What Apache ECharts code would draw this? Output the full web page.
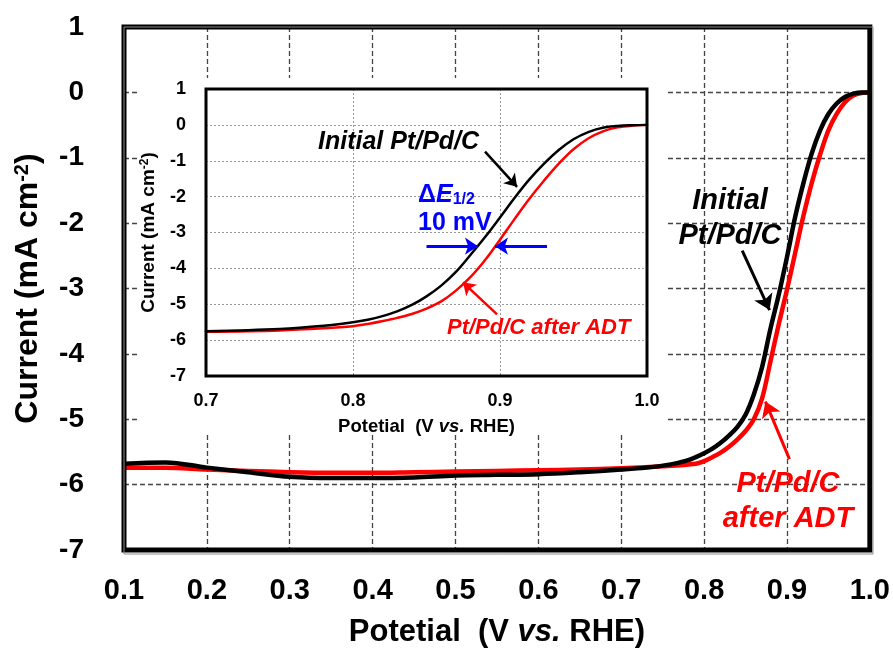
<!DOCTYPE html>
<html>
<head>
<meta charset="utf-8">
<script src="https://cdn.jsdelivr.net/npm/echarts@6/dist/echarts.min.js"></script>
<style>
  html, body { margin: 0; padding: 0; background: #fff; }
  #chart { width: 893px; height: 653px; }
</style>
</head>
<body>
<div id="chart"></div>
<script>
// ORR polarization curves of Pt/Pd/C before and after the accelerated durability test.

// Full scan, initial catalyst (potential V, current mA cm-2)
const initialV = [0.10, 0.15, 0.20, 0.25, 0.30, 0.35, 0.40, 0.45, 0.50, 0.55, 0.60, 0.65, 0.70, 0.73, 0.76, 0.78, 0.79, 0.80, 0.81, 0.82, 0.83, 0.84, 0.85, 0.86, 0.87, 0.88, 0.89, 0.90, 0.91, 0.92, 0.93, 0.94, 0.95, 0.96, 0.97, 0.98, 0.99, 1.00];
const initialI = [-5.68, -5.66, -5.74, -5.81, -5.88, -5.90, -5.90, -5.89, -5.86, -5.85, -5.84, -5.81, -5.77, -5.74, -5.69, -5.63, -5.58, -5.52, -5.45, -5.36, -5.25, -5.12, -4.93, -4.62, -4.20, -3.62, -3.10, -2.52, -1.90, -1.38, -0.93, -0.58, -0.33, -0.17, -0.07, -0.02, 0.00, 0.00];

// Full scan, after ADT
const adtV = [0.10, 0.15, 0.20, 0.25, 0.30, 0.35, 0.40, 0.45, 0.50, 0.55, 0.60, 0.65, 0.70, 0.75, 0.79, 0.80, 0.81, 0.82, 0.83, 0.84, 0.85, 0.86, 0.87, 0.88, 0.89, 0.90, 0.91, 0.92, 0.93, 0.94, 0.95, 0.96, 0.97, 0.98, 0.99, 1.00];
const adtI = [-5.74, -5.74, -5.77, -5.79, -5.81, -5.82, -5.82, -5.81, -5.80, -5.79, -5.78, -5.77, -5.75, -5.72, -5.68, -5.64, -5.58, -5.51, -5.42, -5.31, -5.18, -5.00, -4.68, -4.12, -3.55, -3.02, -2.45, -1.88, -1.38, -0.95, -0.58, -0.33, -0.15, -0.05, -0.01, 0.00];

// Inset (0.7 - 1.0 V), initial catalyst
const insetInitialV = [0.70, 0.75, 0.78, 0.80, 0.81, 0.82, 0.83, 0.84, 0.85, 0.86, 0.87, 0.88, 0.89, 0.90, 0.91, 0.92, 0.93, 0.94, 0.95, 0.96, 0.97, 0.98, 0.99, 1.00];
const insetInitialI = [-5.75, -5.69, -5.60, -5.50, -5.43, -5.33, -5.20, -5.02, -4.78, -4.48, -4.10, -3.62, -3.12, -2.58, -2.03, -1.52, -1.08, -0.70, -0.40, -0.20, -0.08, -0.03, -0.01, 0.00];

// Inset (0.7 - 1.0 V), after ADT
const insetAdtV = [0.70, 0.75, 0.78, 0.80, 0.81, 0.82, 0.83, 0.84, 0.85, 0.86, 0.87, 0.88, 0.89, 0.90, 0.91, 0.92, 0.93, 0.94, 0.95, 0.96, 0.97, 0.98, 0.99, 1.00];
const insetAdtI = [-5.77, -5.73, -5.67, -5.61, -5.55, -5.47, -5.38, -5.27, -5.12, -4.92, -4.62, -4.24, -3.76, -3.20, -2.62, -2.06, -1.55, -1.08, -0.68, -0.38, -0.18, -0.07, -0.02, 0.00];

// Axis ranges
const mainX = { min: 0.1, max: 1.0, step: 0.1 };
const mainY = { min: -7, max: 1, step: 1 };
const insetX = { min: 0.7, max: 1.0, step: 0.1 };
const insetY = { min: -7, max: 1, step: 1 };

// Annotation arrows, [start, end] in data units
const mainArrowInitial = [[0.846, -2.42], [0.879, -3.33]];
const mainArrowAdt = [[0.903, -5.61], [0.874, -4.73]];
const insetArrowInitial = [[0.8898, -0.744], [0.9116, -1.728]];
const insetArrowAdt = [[0.898, -5.28], [0.8748, -4.39]];
const halfWaveArrows = [
  [[0.850, -3.38], [0.885, -3.38]],
  [[0.932, -3.38], [0.8966, -3.38]]
];

const FONT = '"Liberation Sans", Arial, Helvetica, sans-serif';
const RED = '#ff0000';
const BLUE = '#0000ff';

const MAIN = { left: 124, top: 27, width: 749, height: 527 };
const INSET = { left: 206, top: 89, width: 441, height: 287 };

const pairs = (xs, ys) => xs.map((x, i) => [x, ys[i]]);

const chart = echarts.init(document.getElementById('chart'), null, { renderer: 'canvas' });

const bold = (size, extra) => Object.assign({ fontFamily: FONT, fontWeight: 'bold', fontSize: size, color: '#000' }, extra || {});

function valueAxis(range, gridIndex, opts) {
  return Object.assign({
    type: 'value',
    gridIndex: gridIndex,
    min: range.min,
    max: range.max,
    interval: range.step,
    axisLine: { show: false },
    axisTick: { show: false }
  }, opts);
}

function curve(name, xs, ys, color, width, axisIndex, z) {
  return {
    name: name, type: 'line', xAxisIndex: axisIndex, yAxisIndex: axisIndex, z: z,
    data: pairs(xs, ys), showSymbol: false, smooth: 0.35,
    lineStyle: { color: color, width: width, cap: 'round', join: 'round' }
  };
}

function arrow(coordsList, color, width, size, axisIndex) {
  return {
    type: 'lines', coordinateSystem: 'cartesian2d', xAxisIndex: axisIndex, yAxisIndex: axisIndex, z: 12,
    symbol: ['none', 'arrow'], symbolSize: [0, size],
    lineStyle: { color: color, width: width, opacity: 1 },
    data: coordsList.map(c => ({ coords: c }))
  };
}

const option = {
  animation: false,
  backgroundColor: '#fff',
  grid: [
    Object.assign({ show: true, borderColor: '#000', borderWidth: 5, backgroundColor: 'transparent', z: 10 }, MAIN),
    Object.assign({ show: true, borderColor: '#000', borderWidth: 3, backgroundColor: 'transparent', z: 8 }, INSET)
  ],
  xAxis: [
    valueAxis(mainX, 0, {
      z: 1,
      axisLabel: Object.assign(bold(29), { margin: 26, formatter: v => v.toFixed(1) }),
      splitLine: { show: true, lineStyle: { color: '#444', width: 1.3, type: [5, 3] } },
      name: '{a|Potetial  (V }{i|vs.}{a| RHE)}',
      nameLocation: 'middle',
      nameGap: 67,
      nameTextStyle: { rich: { a: bold(31), i: bold(31, { fontStyle: 'italic' }) } }
    }),
    valueAxis(insetX, 1, {
      z: 6,
      axisLabel: Object.assign(bold(18), { margin: 16, formatter: v => v.toFixed(1) }),
      splitLine: { show: true, lineStyle: { color: '#999', width: 1, type: [2, 2] } },
      name: '{a|Potetial  (V }{i|vs.}{a| RHE)}',
      nameLocation: 'middle',
      nameGap: 41,
      nameTextStyle: { rich: { a: bold(18.5), i: bold(18.5, { fontStyle: 'italic' }) } }
    })
  ],
  yAxis: [
    valueAxis(mainY, 0, {
      z: 1,
      axisLabel: Object.assign(bold(28), { margin: 40 }),
      splitLine: { show: true, lineStyle: { color: '#444', width: 1.3, type: [5, 3] } },
      name: '{a|Current (mA cm}{s|-2}{a|)}',
      nameLocation: 'middle',
      nameRotate: 90,
      nameGap: 80,
      nameTextStyle: { rich: { a: bold(32), s: bold(20, { verticalAlign: 'top' }) } }
    }),
    valueAxis(insetY, 1, {
      z: 6,
      axisLabel: Object.assign(bold(18), { margin: 20 }),
      splitLine: { show: true, lineStyle: { color: '#999', width: 1, type: [2, 2] } },
      name: '{a|Current (mA cm}{s|-2}{a|)}',
      nameLocation: 'middle',
      nameRotate: 90,
      nameGap: 48,
      nameTextStyle: { rich: { a: bold(19), s: bold(12, { verticalAlign: 'top' }) } }
    })
  ],
  series: [
    curve('Pt/Pd/C after ADT', adtV, adtI, RED, 4.5, 0, 3),
    curve('Initial Pt/Pd/C', initialV, initialI, '#000', 4.5, 0, 3),
    curve('Inset after ADT', insetAdtV, insetAdtI, RED, 2.5, 1, 7),
    curve('Inset initial', insetInitialV, insetInitialI, '#000', 2.5, 1, 7),
    arrow([mainArrowInitial], '#000', 3, 15, 0),
    arrow([mainArrowAdt], RED, 3, 15, 0),
    arrow([insetArrowInitial], '#000', 2.5, 12, 1),
    arrow([insetArrowAdt], RED, 2.5, 12, 1),
    arrow(halfWaveArrows, BLUE, 3, 13, 1)
  ],
  graphic: [
    // white panel behind the inset, hiding the main grid lines
    { type: 'rect', z: 5, silent: true, shape: { x: 137, y: 78, width: 531, height: 357 }, style: { fill: '#fff' } },
    // thin grey rule inside the heavy frame
    { type: 'rect', z: 11, silent: true, shape: { x: MAIN.left, y: MAIN.top, width: MAIN.width, height: MAIN.height }, style: { fill: 'none', stroke: '#8c8c8c', lineWidth: 1 } },
    // main annotations
    { type: 'text', z: 12, x: 730, y: 218, style: { text: 'Initial\nPt/Pd/C', font: 'italic bold 29px ' + FONT, fill: '#000', align: 'center', verticalAlign: 'middle', lineHeight: 35 } },
    { type: 'text', z: 12, x: 788, y: 501, style: { text: 'Pt/Pd/C\nafter ADT', font: 'italic bold 29px ' + FONT, fill: RED, align: 'center', verticalAlign: 'middle', lineHeight: 35 } },
    // inset annotations
    { type: 'text', z: 12, x: 318, y: 142, style: { text: 'Initial Pt/Pd/C', font: 'italic bold 25px ' + FONT, fill: '#000', align: 'left', verticalAlign: 'middle' } },
    { type: 'text', z: 12, x: 418, y: 195, style: {
        text: '{d|Δ}{e|E}{s|1/2}', align: 'left', verticalAlign: 'middle',
        rich: {
          d: { font: 'bold 25px ' + FONT, fill: BLUE },
          e: { font: 'italic bold 25px ' + FONT, fill: BLUE },
          s: { font: 'bold 16px ' + FONT, fill: BLUE, verticalAlign: 'bottom', padding: [10, 0, 0, 0] }
        } } },
    { type: 'text', z: 12, x: 418, y: 223, style: { text: '10 mV', font: 'bold 25px ' + FONT, fill: BLUE, align: 'left', verticalAlign: 'middle' } },
    { type: 'text', z: 12, x: 447, y: 328, style: { text: 'Pt/Pd/C after ADT', font: 'italic bold 22px ' + FONT, fill: RED, align: 'left', verticalAlign: 'middle' } }
  ]
};

chart.setOption(option);
</script>
</body>
</html>
